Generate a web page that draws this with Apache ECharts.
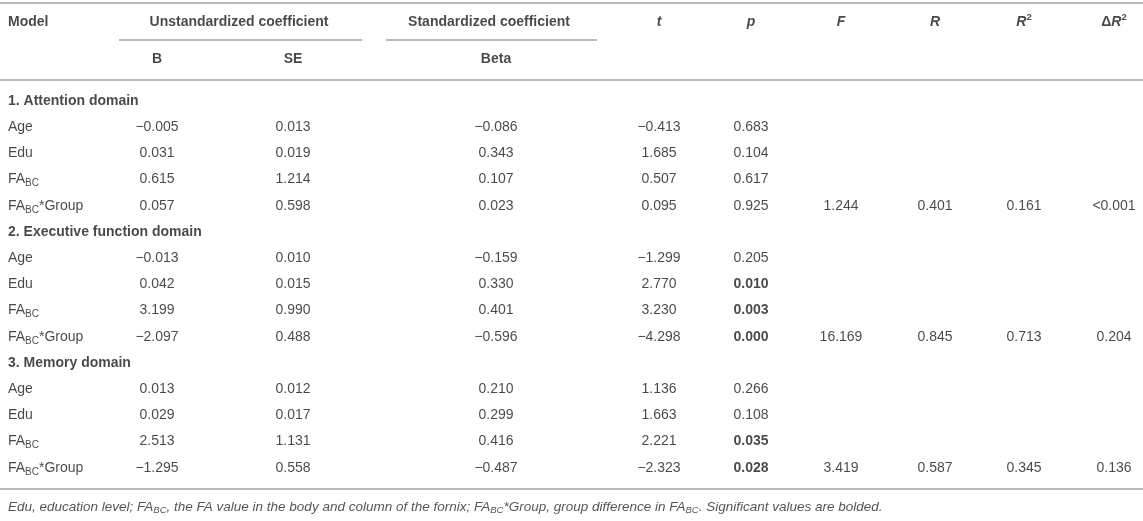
<!DOCTYPE html>
<html>
<head>
    <meta charset="utf-8">
    <title>regression table</title>
    <script src="https://cdn.jsdelivr.net/npm/echarts@6/dist/echarts.min.js"></script>
    <style>
        body { margin: 0; background: #fff; }
    </style>
</head>
<body>
    <div id="table" style="width: 1143px;height:521px;"></div>
    <script type="text/javascript">
        // table values
        var domains = ['1. Attention domain', '2. Executive function domain', '3. Memory domain'];
        var predictors = ['Age', 'Edu', 'FA_BC', 'FA_BC*Group'];
        var coefB = [[-0.005, 0.031, 0.615, 0.057], [-0.013, 0.042, 3.199, -2.097], [0.013, 0.029, 2.513, -1.295]];
        var coefSE = [[0.013, 0.019, 1.214, 0.598], [0.010, 0.015, 0.990, 0.488], [0.012, 0.017, 1.131, 0.558]];
        var beta = [[-0.086, 0.343, 0.107, 0.023], [-0.159, 0.330, 0.401, -0.596], [0.210, 0.299, 0.416, -0.487]];
        var tVal = [[-0.413, 1.685, 0.507, 0.095], [-1.299, 2.770, 3.230, -4.298], [1.136, 1.663, 2.221, -2.323]];
        var pVal = [[0.683, 0.104, 0.617, 0.925], [0.205, 0.010, 0.003, 0.000], [0.266, 0.108, 0.035, 0.028]];
        var modelF = [1.244, 16.169, 3.419];
        var modelR = [0.401, 0.845, 0.587];
        var modelR2 = [0.161, 0.713, 0.345];
        var deltaR2 = ['<0.001', 0.204, 0.136];
        var footnote = '{it|Edu, education level; FA}{itsub|BC}{it|, the FA value in the body and column of the fornix; FA}{itsub|BC}{it|*Group, group difference in FA}{itsub|BC}{it|. Significant values are bolded.}';

        // layout (pixels in the 1143 x 521 frame)
        var colX = {model: 8, B: 157, SE: 293, Beta: 496, t: 659, p: 751, F: 841, R: 935, R2: 1024, dR2: 1114};
        var headY = 22, subHeadY = 59, firstRowY = 101, rowStep = 26.2;
        var ruleColor = '#a3a3a3';
        var ink = '#1a1a1a';
        var font = 'Liberation Sans';

        function fmt(v) {
            if (typeof v === 'string') return v;
            return v.toFixed(3).replace('-', '\u2212');
        }
        function label(name) {
            return name.replace('FA_BC', 'FA{sub|BC}');
        }
        function rowY(i) {
            return firstRowY + i * rowStep;
        }

        var cells = [];
        function cell(x, y, text, align) {
            cells.push({value: [x, y], label: {formatter: text, align: align || 'center'}});
        }

        // header
        cell(colX.model, headY, '{b|Model}', 'left');
        cell(239, headY, '{b|Unstandardized coefficient}');
        cell(489, headY, '{b|Standardized coefficient}');
        cell(colX.t, headY, '{bi|t}');
        cell(colX.p, headY, '{bi|p}');
        cell(colX.F, headY, '{bi|F}');
        cell(colX.R, headY, '{bi|R}');
        cell(colX.R2, headY, '{bi|R}{bsup|2}');
        cell(colX.dR2, headY, '{b|\u0394}{bi|R}{bsup|2}');
        cell(colX.B, subHeadY, '{b|B}');
        cell(colX.SE, subHeadY, '{b|SE}');
        cell(colX.Beta, subHeadY, '{b|Beta}');

        // body
        for (var d = 0; d < domains.length; d++) {
            var r0 = d * 5;
            cell(colX.model, rowY(r0), '{b|' + domains[d] + '}', 'left');
            for (var k = 0; k < predictors.length; k++) {
                var y = rowY(r0 + 1 + k);
                cell(colX.model, y, label(predictors[k]), 'left');
                cell(colX.B, y, fmt(coefB[d][k]));
                cell(colX.SE, y, fmt(coefSE[d][k]));
                cell(colX.Beta, y, fmt(beta[d][k]));
                cell(colX.t, y, fmt(tVal[d][k]));
                var p = fmt(pVal[d][k]);
                cell(colX.p, y, pVal[d][k] < 0.05 ? '{b|' + p + '}' : p);
                if (k === predictors.length - 1) {
                    cell(colX.F, y, fmt(modelF[d]));
                    cell(colX.R, y, fmt(modelR[d]));
                    cell(colX.R2, y, fmt(modelR2[d]));
                    cell(colX.dR2, y, fmt(deltaR2[d]));
                }
            }
        }
        var lastRowY = rowY(domains.length * 5 - 1);
        var bottomRuleY = lastRowY + 21;
        cell(colX.model, bottomRuleY + 18, footnote, 'left');

        var rules = [
            {coords: [[0, 3], [1143, 3]]},
            {coords: [[119, 40], [362, 40]]},
            {coords: [[386, 40], [597, 40]]},
            {coords: [[0, 80], [1143, 80]]},
            {coords: [[0, bottomRuleY], [1143, bottomRuleY]]}
        ];

        var myChart = echarts.init(document.getElementById('table'));
        var option = {
            animation: false,
            grid: {left: 0, right: 0, top: 0, bottom: 0},
            xAxis: {type: 'value', min: 0, max: 1143, show: false},
            yAxis: {type: 'value', min: 0, max: 521, inverse: true, show: false},
            series: [{
                type: 'lines',
                coordinateSystem: 'cartesian2d',
                polyline: false,
                silent: true,
                lineStyle: {color: ruleColor, width: 1.6, opacity: 1},
                data: rules
            }, {
                type: 'scatter',
                symbolSize: 1,
                itemStyle: {color: 'rgba(0,0,0,0)'},
                silent: true,
                label: {
                    show: true,
                    position: 'inside',
                    verticalAlign: 'middle',
                    fontFamily: font,
                    fontSize: 14,
                    color: ink,
                    rich: {
                        b: {fontWeight: 'bold', fontSize: 14, color: ink, fontFamily: font},
                        bi: {fontWeight: 'bold', fontStyle: 'italic', fontSize: 14, color: ink, fontFamily: font},
                        bsup: {fontWeight: 'bold', fontSize: 9.5, color: ink, padding: [0, 0, 9, 0], fontFamily: font},
                        sub: {fontSize: 10, color: ink, padding: [8, 0, 0, 0], fontFamily: font},
                        it: {fontStyle: 'italic', fontSize: 13.5, color: '#2a2a2a', fontFamily: font},
                        itsub: {fontStyle: 'italic', fontSize: 9.5, color: '#2a2a2a', padding: [7, 0, 0, 0], fontFamily: font}
                    }
                },
                data: cells
            }]
        };
        myChart.setOption(option);
    </script>
</body>
</html>
